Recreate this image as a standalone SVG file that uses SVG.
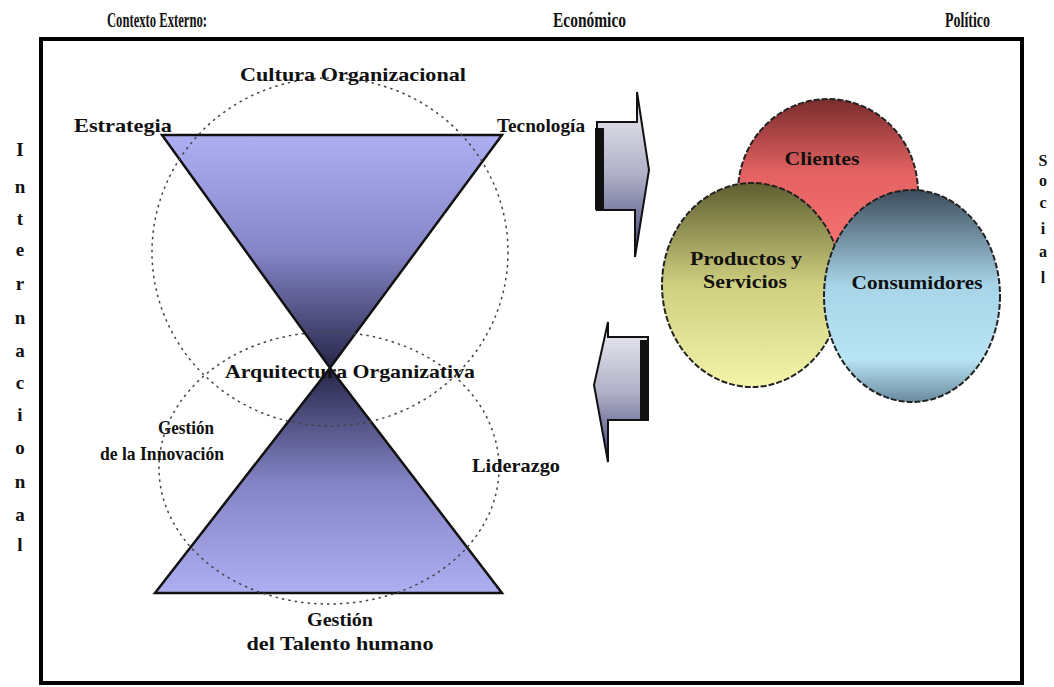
<svg xmlns="http://www.w3.org/2000/svg" width="1054" height="687" viewBox="0 0 1054 687">
<defs>
<linearGradient id="gTop" x1="0" y1="0" x2="0" y2="1">
<stop offset="0" stop-color="#aeaef2"/><stop offset="0.5" stop-color="#8585c8"/><stop offset="1" stop-color="#26264a"/>
</linearGradient>
<linearGradient id="gBot" x1="0" y1="0" x2="0" y2="1">
<stop offset="0" stop-color="#26264a"/><stop offset="0.5" stop-color="#8282c4"/><stop offset="1" stop-color="#aeaef2"/>
</linearGradient>
<linearGradient id="gArrow" x1="0" y1="0" x2="0" y2="1">
<stop offset="0" stop-color="#f0f0f4"/><stop offset="0.5" stop-color="#b0b0c8"/><stop offset="1" stop-color="#404078"/>
</linearGradient>
<linearGradient id="gRed" x1="0" y1="0" x2="0" y2="1">
<stop offset="0" stop-color="#7a2c2c"/><stop offset="0.4" stop-color="#e46262"/><stop offset="1" stop-color="#ff7a7a"/>
</linearGradient>
<linearGradient id="gYel" x1="0" y1="0" x2="0" y2="1">
<stop offset="0" stop-color="#5e5e30"/><stop offset="0.5" stop-color="#cfcf80"/><stop offset="1" stop-color="#f4f4aa"/>
</linearGradient>
<linearGradient id="gBlue" x1="0" y1="0" x2="0" y2="1">
<stop offset="0" stop-color="#3c4c5c"/><stop offset="0.45" stop-color="#a8d4e8"/><stop offset="0.8" stop-color="#b8e4f4"/><stop offset="1" stop-color="#6a8aa0"/>
</linearGradient>
<style>
.t{font-family:"Liberation Serif","Times New Roman",serif;font-weight:bold;fill:#111;}
.dot{fill:none;stroke:#444;stroke-width:1.5;stroke-dasharray:2.5 4;}
.tri{stroke:#111;stroke-width:2.5;stroke-linejoin:miter;}
.arr{fill:url(#gArrow);stroke:#111;stroke-width:2;}
.c{stroke:#222;stroke-width:2;stroke-dasharray:6 2;}
</style>
</defs>
<rect x="0" y="0" width="1054" height="687" fill="#ffffff"/>
<rect id="frame" x="41" y="39" width="981" height="644" fill="none" stroke="#000" stroke-width="4"/>

<g id="headers">
<text class="t" x="107" y="27" font-size="20" textLength="100" lengthAdjust="spacingAndGlyphs">Contexto Externo:</text>
<text class="t" x="553" y="27" font-size="20" textLength="73" lengthAdjust="spacingAndGlyphs">Económico</text>
<text class="t" x="945" y="27" font-size="20" textLength="45" lengthAdjust="spacingAndGlyphs">Político</text>
</g>

<g id="internacional">
<text class="t" font-size="19" text-anchor="middle"><tspan x="20" y="156">I</tspan><tspan x="20" y="193">n</tspan><tspan x="20" y="225">t</tspan><tspan x="20" y="256">e</tspan><tspan x="20" y="290">r</tspan><tspan x="20" y="324">n</tspan><tspan x="20" y="357">a</tspan><tspan x="20" y="389">c</tspan><tspan x="20" y="421">i</tspan><tspan x="20" y="454">o</tspan><tspan x="20" y="488">n</tspan><tspan x="20" y="521">a</tspan><tspan x="20" y="551">l</tspan></text>
</g>
<g id="social">
<text class="t" font-size="16" text-anchor="middle"><tspan x="1043" y="166">S</tspan><tspan x="1043" y="186">o</tspan><tspan x="1043" y="208">c</tspan><tspan x="1043" y="234">i</tspan><tspan x="1043" y="257">a</tspan><tspan x="1043" y="283">l</tspan></text>
</g>

<g id="hourglass">
<polygon id="triTop" class="tri" points="162,135 502,135 330,368" fill="url(#gTop)"/>
<polygon id="triBottom" class="tri" points="330,368 155,593 502,593" fill="url(#gBot)"/>
</g>

<g id="dottedCircles">
<ellipse id="circleUpper" class="dot" cx="330" cy="252" rx="178" ry="174"/>
<ellipse id="circleLower" class="dot" cx="329" cy="468" rx="170" ry="136"/>
</g>

<g id="labelsLeft">
<text id="cultura" class="t" x="240" y="81" font-size="19" textLength="226" lengthAdjust="spacingAndGlyphs">Cultura Organizacional</text>
<text id="estrategia" class="t" x="74" y="132" font-size="19" textLength="98" lengthAdjust="spacingAndGlyphs">Estrategia</text>
<text id="tecnologia" class="t" x="497" y="132" font-size="19" textLength="88" lengthAdjust="spacingAndGlyphs">Tecnología</text>
<text id="arquitectura" class="t" x="225" y="378" font-size="19" textLength="250" lengthAdjust="spacingAndGlyphs">Arquitectura Organizativa</text>
<text id="gestionInnov" class="t" font-size="19" text-anchor="middle"><tspan x="186" y="434" textLength="56" lengthAdjust="spacingAndGlyphs">Gestión</tspan><tspan x="162" y="460" textLength="124" lengthAdjust="spacingAndGlyphs">de la Innovación</tspan></text>
<text id="liderazgo" class="t" x="472" y="472" font-size="19" textLength="88" lengthAdjust="spacingAndGlyphs">Liderazgo</text>
<text id="gestionTalento" class="t" font-size="19" text-anchor="middle"><tspan x="340" y="626" textLength="66" lengthAdjust="spacingAndGlyphs">Gestión</tspan><tspan x="340" y="650" textLength="187" lengthAdjust="spacingAndGlyphs">del Talento humano</tspan></text>
</g>

<g id="arrows">
<g id="arrowRight">
<polygon class="arr" points="597,122 637,122 637,92 649,170 635,257 635,210 597,210"/>
<rect x="595" y="128" width="9" height="82" fill="#111"/>
</g>
<g id="arrowLeft">
<polygon class="arr" points="608,322 608,337 648,337 648,420 608,420 608,462 594,385"/>
<rect x="640" y="340" width="8" height="80" fill="#111"/>
</g>
</g>

<g id="nodeClientes">
<ellipse class="c" cx="828" cy="192" rx="90" ry="93" fill="url(#gRed)"/>
<text class="t" x="822" y="165" font-size="19" text-anchor="middle" textLength="75" lengthAdjust="spacingAndGlyphs">Clientes</text>
</g>
<g id="nodeProductos">
<ellipse class="c" cx="752" cy="285" rx="90" ry="102" fill="url(#gYel)"/>
<text class="t" font-size="19" text-anchor="middle"><tspan x="746" y="265" textLength="112" lengthAdjust="spacingAndGlyphs">Productos y</tspan><tspan x="745" y="288" textLength="84" lengthAdjust="spacingAndGlyphs">Servicios</tspan></text>
</g>
<g id="nodeConsumidores">
<ellipse class="c" cx="912" cy="296" rx="88" ry="106" fill="url(#gBlue)"/>
<text class="t" x="917" y="289" font-size="19" text-anchor="middle" textLength="131" lengthAdjust="spacingAndGlyphs">Consumidores</text>
</g>
</svg>
